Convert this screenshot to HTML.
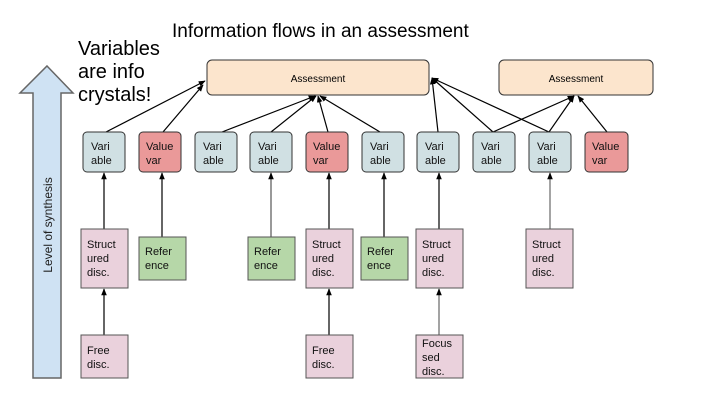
<!DOCTYPE html>
<html><head><meta charset="utf-8"><style>
html,body{margin:0;padding:0;background:#fff;}
svg{display:block;}
text{font-family:"Liberation Sans",Arial,sans-serif;}
</style></head><body>
<svg width="720" height="405" viewBox="0 0 720 405" xmlns="http://www.w3.org/2000/svg">
<defs>
<marker id="a" viewBox="0 0 10 10" refX="9" refY="5" markerWidth="7" markerHeight="7" orient="auto" markerUnits="userSpaceOnUse"><path d="M0,1 L10,5 L0,9 z" fill="#000"/></marker>
</defs>
<!-- synthesis arrow -->
<path d="M47,66 L73,93 L61,93 L61,378 L33,378 L33,93 L20,93 z" fill="#cfe2f3" stroke="#666" stroke-width="1.5"/>
<text transform="translate(52,225) rotate(-90)" font-size="12" text-anchor="middle" fill="#222">Level of synthesis</text>
<text x="172" y="37" font-size="19" fill="#000">Information flows in an assessment</text>
<text font-size="20" fill="#000"><tspan x="78" y="55">Variables</tspan><tspan x="78" y="78">are info</tspan><tspan x="78" y="101">crystals!</tspan></text>
<!-- assessments -->
<rect x="207" y="60" width="222" height="35" rx="5" fill="#fce5cd" stroke="#333" stroke-width="1"/>
<text x="318" y="82" font-size="10" text-anchor="middle">Assessment</text>
<rect x="499" y="60" width="154" height="35" rx="5" fill="#fce5cd" stroke="#333" stroke-width="1"/>
<text x="576" y="82" font-size="10" text-anchor="middle">Assessment</text>
<!-- connectors to assessments -->
<g stroke="#000" stroke-width="1.2" marker-end="url(#a)" fill="none">
<line x1="106" y1="132" x2="205" y2="81"/>
<line x1="163" y1="132" x2="203" y2="85"/>
<line x1="222" y1="132" x2="315" y2="96"/>
<line x1="271" y1="132" x2="316" y2="96"/>
<line x1="328" y1="132" x2="318" y2="96"/>
<line x1="380" y1="132" x2="320" y2="96"/>
<line x1="438" y1="132" x2="432" y2="78"/>
<line x1="493" y1="132" x2="432" y2="78"/>
<line x1="549" y1="132" x2="432" y2="78"/>
<line x1="493" y1="132" x2="574" y2="96"/>
<line x1="549" y1="132" x2="574" y2="96"/>
<line x1="607" y1="132" x2="578" y2="96"/>
</g>
<!-- top row -->
<g stroke="#333" stroke-width="1">
<rect x="83" y="132" width="42" height="40" rx="4" fill="#d0e0e3"/>
<rect x="139" y="132" width="42" height="40" rx="4" fill="#ea9999"/>
<rect x="195" y="132" width="42" height="40" rx="4" fill="#d0e0e3"/>
<rect x="250" y="132" width="42" height="40" rx="4" fill="#d0e0e3"/>
<rect x="306" y="132" width="42" height="40" rx="4" fill="#ea9999"/>
<rect x="362" y="132" width="42" height="40" rx="4" fill="#d0e0e3"/>
<rect x="417" y="132" width="42" height="40" rx="4" fill="#d0e0e3"/>
<rect x="473" y="132" width="42" height="40" rx="4" fill="#d0e0e3"/>
<rect x="529" y="132" width="42" height="40" rx="4" fill="#d0e0e3"/>
<rect x="585" y="132" width="43" height="40" rx="4" fill="#ea9999"/>
</g>
<g font-size="11" fill="#111">
<text x="91" y="150">Vari</text><text x="91" y="164">able</text>
<text x="146" y="150">Value</text><text x="146" y="164">var</text>
<text x="203" y="150">Vari</text><text x="203" y="164">able</text>
<text x="258" y="150">Vari</text><text x="258" y="164">able</text>
<text x="313" y="150">Value</text><text x="313" y="164">var</text>
<text x="370" y="150">Vari</text><text x="370" y="164">able</text>
<text x="425" y="150">Vari</text><text x="425" y="164">able</text>
<text x="481" y="150">Vari</text><text x="481" y="164">able</text>
<text x="537" y="150">Vari</text><text x="537" y="164">able</text>
<text x="592" y="150">Value</text><text x="592" y="164">var</text>
</g>
<!-- vertical connectors -->
<g stroke="#000" stroke-width="1.2" marker-end="url(#a)">
<line x1="104" y1="229" x2="104" y2="173"/>
<line x1="162" y1="237" x2="162" y2="173"/>
<line x1="271" y1="237" x2="271" y2="173" stroke="#555"/>
<line x1="329" y1="229" x2="329" y2="173"/>
<line x1="384" y1="237" x2="384" y2="173"/>
<line x1="439" y1="229" x2="439" y2="173"/>
<line x1="550" y1="229" x2="550" y2="173" stroke="#666"/>
<line x1="104" y1="335" x2="104" y2="289"/>
<line x1="329" y1="335" x2="329" y2="289"/>
<line x1="439" y1="335" x2="439" y2="289" stroke="#666"/>
</g>
<!-- lower boxes -->
<g stroke="#555" stroke-width="1">
<rect x="81" y="229" width="47" height="59" fill="#ead1dc"/>
<rect x="139" y="237" width="47" height="43" fill="#b6d7a8"/>
<rect x="248" y="237" width="47" height="43" fill="#b6d7a8"/>
<rect x="306" y="229" width="47" height="59" fill="#ead1dc"/>
<rect x="361" y="237" width="47" height="43" fill="#b6d7a8"/>
<rect x="416" y="229" width="47" height="59" fill="#ead1dc"/>
<rect x="526" y="229" width="47" height="59" fill="#ead1dc"/>
<rect x="81" y="335" width="47" height="43" fill="#ead1dc"/>
<rect x="306" y="335" width="47" height="43" fill="#ead1dc"/>
<rect x="416" y="335" width="47" height="43" fill="#ead1dc"/>
</g>
<g font-size="11" fill="#111">
<text x="87" y="248">Struct</text><text x="87" y="262">ured</text><text x="87" y="276">disc.</text>
<text x="145" y="255">Refer</text><text x="145" y="269">ence</text>
<text x="254" y="255">Refer</text><text x="254" y="269">ence</text>
<text x="312" y="248">Struct</text><text x="312" y="262">ured</text><text x="312" y="276">disc.</text>
<text x="367" y="255">Refer</text><text x="367" y="269">ence</text>
<text x="422" y="248">Struct</text><text x="422" y="262">ured</text><text x="422" y="276">disc.</text>
<text x="532" y="248">Struct</text><text x="532" y="262">ured</text><text x="532" y="276">disc.</text>
<text x="87" y="354">Free</text><text x="87" y="368">disc.</text>
<text x="312" y="354">Free</text><text x="312" y="368">disc.</text>
<text x="422" y="347">Focus</text><text x="422" y="361">sed</text><text x="422" y="375">disc.</text>
</g>
</svg>
</body></html>
